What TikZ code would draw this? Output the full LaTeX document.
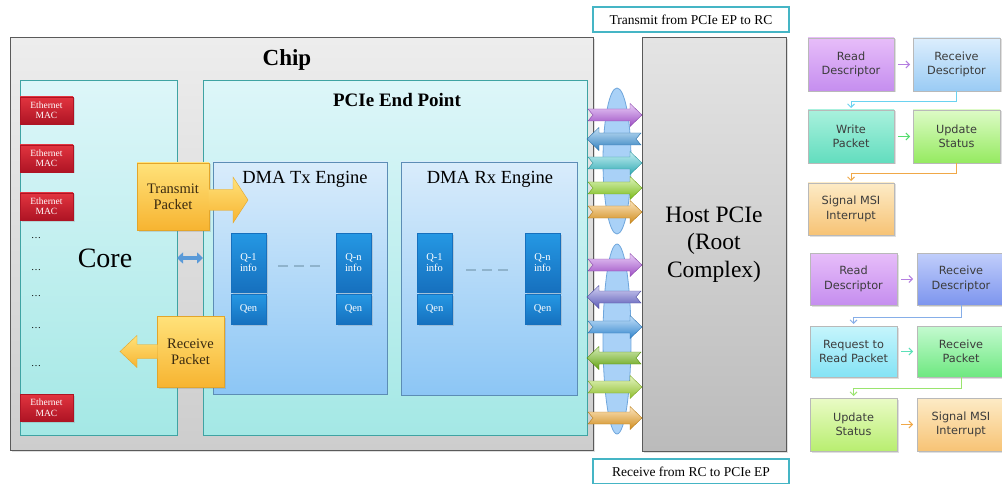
\documentclass[tikz,border=0pt]{standalone}
\usepackage{fontspec}
\setmainfont{Liberation Serif}
\newfontfamily\flowfont{DejaVu Sans}
\usetikzlibrary{shapes.geometric,arrows.meta,shadows}

% block fills and outlines
\definecolor{chipline}{HTML}{5A5A5A}
\definecolor{chiptop}{HTML}{EDEDED}
\definecolor{chipbot}{HTML}{CDCDCD}
\definecolor{tealline}{HTML}{3FA3A3}
\definecolor{tealtop}{HTML}{DDF6F9}
\definecolor{tealbot}{HTML}{A4E8E5}
\definecolor{dmaline}{HTML}{5C8DB5}
\definecolor{dmatop}{HTML}{D9ECFB}
\definecolor{dmabot}{HTML}{8CC6F5}
\definecolor{qtop}{HTML}{2598E4}
\definecolor{qbot}{HTML}{1670BE}
\definecolor{mactop}{HTML}{E2343F}
\definecolor{macbot}{HTML}{AE1424}
\definecolor{pkttop}{HTML}{FFE27A}
\definecolor{pktbot}{HTML}{F7B431}
\definecolor{pktline}{HTML}{E3A52A}
\definecolor{pkttext}{HTML}{3A2A10}
\definecolor{hosttop}{HTML}{E4E4E4}
\definecolor{hostbot}{HTML}{BBBBBB}
\definecolor{busfill}{HTML}{A9D1F7}
\definecolor{busline}{HTML}{6FA6DC}
\definecolor{labelline}{HTML}{45B5C5}
\definecolor{linkblue}{HTML}{5A9AD8}
\definecolor{qdash}{HTML}{8FB3CC}
% bus arrow colours
\definecolor{apurple}{HTML}{B85CE6}
\definecolor{ablue}{HTML}{3A97E0}
\definecolor{ateal}{HTML}{3CC9D4}
\definecolor{alime}{HTML}{8FDB1E}
\definecolor{aorange}{HTML}{F5A623}
\definecolor{aviolet}{HTML}{6A68D6}
\definecolor{asky}{HTML}{3C9CF0}
\definecolor{agreen}{HTML}{72BE12}
\definecolor{ayellow}{HTML}{A8DF35}
% flow chart colours
\definecolor{flowtext}{HTML}{3C3C3C}
\definecolor{rdtop}{HTML}{E7BDF9}\definecolor{rdbot}{HTML}{C58EEF}
\definecolor{rcatop}{HTML}{DCEEFD}\definecolor{rcabot}{HTML}{9ACBF4}
\definecolor{wptop}{HTML}{A9F1DD}\definecolor{wpbot}{HTML}{62DDBE}
\definecolor{usatop}{HTML}{DDFBC6}\definecolor{usabot}{HTML}{95EA60}
\definecolor{smtop}{HTML}{FDEBC6}\definecolor{smbot}{HTML}{F7C375}
\definecolor{rcbtop}{HTML}{C1CEFB}\definecolor{rcbbot}{HTML}{7D95EE}
\definecolor{rqtop}{HTML}{C6F5FC}\definecolor{rqbot}{HTML}{84E3F5}
\definecolor{rptop}{HTML}{C4FAD0}\definecolor{rpbot}{HTML}{6EE880}
\definecolor{usbtop}{HTML}{EAFBC6}\definecolor{usbbot}{HTML}{B8EE70}
\definecolor{cpurple}{HTML}{B47EE0}
\definecolor{ccyan}{HTML}{6AD2F0}
\definecolor{cgreen}{HTML}{55DD6E}
\definecolor{corange}{HTML}{F0A848}
\definecolor{cblue}{HTML}{86AEE8}
\definecolor{cteal}{HTML}{5CE0B8}
\definecolor{clgreen}{HTML}{9AE46E}

% notched bus arrows between the end point and the host
\newcommand\busright[2]{%
  \begin{scope}[shift={(ep.east |- 0,#1)}]
    \path[busarrow=#2] (1,-6) -- (43,-6) -- (43,-11.5) -- (55,0) -- (43,11.5)
      -- (43,6) -- (1,6) -- (6,0) -- cycle;
  \end{scope}}
\newcommand\busleft[2]{%
  \begin{scope}[shift={(host.west |- 0,#1)}, xscale=-1]
    \path[busarrow=#2] (1,-6) -- (43,-6) -- (43,-11.5) -- (55,0) -- (43,11.5)
      -- (43,6) -- (1,6) -- (6,0) -- cycle;
  \end{scope}}

\begin{document}
\begin{tikzpicture}[x=1pt, y=-1pt,
  box/.style={draw, anchor=north west, inner sep=0pt, outer sep=0pt},
  softshadow/.style={drop shadow={opacity=0.25, shadow xshift=1.5pt, shadow yshift=-1.5pt}},
  region/.style={box, draw=tealline, line width=1pt, top color=tealtop, bottom color=tealbot},
  engine/.style={box, draw=dmaline, line width=0.8pt, top color=dmatop, bottom color=dmabot},
  mac/.style={box, draw=macbot, line width=0.4pt, top color=mactop, bottom color=macbot,
    minimum width=53, minimum height=27, text=white, align=center,
    font=\fontsize{9.5}{10.5}\selectfont, softshadow},
  qinfo/.style={box, draw=qbot, line width=0.4pt, top color=qtop, bottom color=qbot,
    minimum width=35, minimum height=59, text=white, align=center,
    font=\fontsize{10.5}{11.5}\selectfont, softshadow},
  qen/.style={qinfo, minimum height=30},
  dotrow/.style={font=\fontsize{10}{11}\selectfont},
  packet/.style={box, draw=pktline, line width=0.5pt, top color=pkttop, bottom color=pktbot,
    text=pkttext, align=center, font=\fontsize{14.5}{16}\selectfont, softshadow},
  pktarrow/.style={top color=pkttop, bottom color=pktbot, draw=none},
  busarrow/.style={draw=#1!75!black, line width=0.4pt, top color=#1!30!white,
    middle color=#1, bottom color=#1!85!black},
  bus/.style={ellipse, draw=busline, line width=0.8pt, fill=busfill, inner sep=0pt, minimum width=28},
  tag/.style={box, draw=labelline, line width=1.2pt, fill=white, minimum width=196,
    minimum height=25, font=\fontsize{13.5}{15}\selectfont},
  flow/.style={box, draw=gray!55, line width=0.5pt, minimum width=86, minimum height=53,
    align=center, text=flowtext, font=\flowfont\fontsize{11.3}{14.5}\selectfont, softshadow},
  flowarrow/.style={line width=0.9pt, -{Straight Barb[length=3.5pt,width=7pt]}}
]
\useasboundingbox (0,0) rectangle (1002,484);
\fill[white] (0,0) rectangle (1002,484);

% ---------------- chip ----------------
\node[box, draw=chipline, line width=1pt, top color=chiptop, bottom color=chipbot,
  minimum width=583, minimum height=412, softshadow] (chip) at (10,38) {};
\node[font=\bfseries\fontsize{23}{26}\selectfont] (chiptitle) at (287,60) {Chip};

% core with its Ethernet MACs
\node[region, minimum width=157, minimum height=354] (core) at (20,81) {};
\node[font=\fontsize{28}{32}\selectfont] (coretitle) at (105,258) {Core};
\node[mac] (mac1) at (20,97) {Ethernet\\MAC};
\node[mac] (mac2) at (20,145) {Ethernet\\MAC};
\node[mac] (mac3) at (20,193) {Ethernet\\MAC};
\node[mac] (mac4) at (20,394) {Ethernet\\MAC};
\node[dotrow] (dots1) at (36,238) {\ldots};
\node[dotrow] (dots2) at (36,270) {\ldots};
\node[dotrow] (dots3) at (36,296) {\ldots};
\node[dotrow] (dots4) at (36,328) {\ldots};
\node[dotrow] (dots5) at (36,366) {\ldots};

% PCIe end point and its DMA engines
\node[region, minimum width=384, minimum height=354] (ep) at (203,81) {};
\node[font=\bfseries\fontsize{19}{22}\selectfont] (eptitle) at (397,100) {PCIe End Point};

\node[engine, minimum width=174, minimum height=232] (tx) at (213,162) {};
\node[font=\fontsize{18.5}{21}\selectfont] (txtitle) at (305,179) {DMA Tx Engine};
\node[engine, minimum width=176, minimum height=233] (rx) at (401,162) {};
\node[font=\fontsize{18.5}{21}\selectfont] (rxtitle) at (490,179) {DMA Rx Engine};

\node[qinfo] (txq1) at (231,233) {Q-1\\info};
\node[qen]   (txe1) at (231,294) {Qen};
\node[qinfo] (txqn) at (336,233) {Q-n\\info};
\node[qen]   (txen) at (336,294) {Qen};
\node[qinfo] (rxq1) at (417,233) {Q-1\\info};
\node[qen]   (rxe1) at (417,294) {Qen};
\node[qinfo] (rxqn) at (525,233) {Q-n\\info};
\node[qen]   (rxen) at (525,294) {Qen};
\draw[qdash, line width=2pt, dash pattern=on 10pt off 6pt]
  ([xshift=12pt, yshift=-3.5pt]txq1.east) -- ([xshift=-10pt, yshift=-3.5pt]txqn.west);
\draw[qdash, line width=2pt, dash pattern=on 10pt off 6pt]
  ([xshift=14pt, yshift=-7.5pt]rxq1.east) -- ([xshift=-12pt, yshift=-7.5pt]rxqn.west);

% core <-> end point link
\draw[linkblue, line width=3.5pt, {Triangle[length=6pt,width=11pt]}-{Triangle[length=6pt,width=11pt]}]
  (core.east |- 0,258) -- (ep.west |- 0,258);

% packet blocks with their block arrows
\node[packet, minimum width=72, minimum height=67] (tp) at (137,163) {Transmit\\Packet};
\node[packet, minimum width=67, minimum height=71] (rp) at (157,316) {Receive\\Packet};
\begin{scope}[shift={(tp.east)}, yshift=-3.5pt]
  \path[pktarrow] (-0.5,-10.5) -- (24,-10.5) -- (24,-23) -- (39,0) -- (24,23) -- (24,10.5) -- (-0.5,10.5) -- cycle;
  \draw[pktline, line width=0.4pt] (0,-10.5) -- (24,-10.5) -- (24,-23) -- (39,0) -- (24,23) -- (24,10.5) -- (0,10.5);
\end{scope}
\begin{scope}[shift={(rp.west)}]
  \path[pktarrow] (0.5,-7) -- (-20,-7) -- (-20,-16) -- (-37,0) -- (-20,16) -- (-20,7) -- (0.5,7) -- cycle;
  \draw[pktline, line width=0.4pt] (0,-7) -- (-20,-7) -- (-20,-16) -- (-37,0) -- (-20,16) -- (-20,7) -- (0,7);
\end{scope}

% ---------------- host ----------------
\node[box, draw=chipline, line width=1pt, top color=hosttop, bottom color=hostbot,
  minimum width=144, minimum height=413, align=center,
  font=\fontsize{23.5}{27.5}\selectfont, softshadow] (host) at (642,38) {Host PCIe\\(Root\\Complex)};

% PCIe lanes
\node[bus, minimum height=146] (txbus) at (617,161) {};
\node[bus, minimum height=190] (rxbus) at (617,339) {};

\busright{115}{apurple}
\busleft{139}{ablue}
\busright{163}{ateal}
\busright{188}{alime}
\busright{212}{aorange}

\busright{265}{apurple}
\busleft{297}{aviolet}
\busright{327}{asky}
\busleft{358}{agreen}
\busright{387}{ayellow}
\busright{418}{aorange}

\node[tag] (txtag) at (593,7) {Transmit from PCIe EP to RC};
\node[tag] (rxtag) at (593,459) {Receive from RC to PCIe EP};

% ---------------- transmit flow ----------------
\node[flow, top color=rdtop, bottom color=rdbot] (rda) at (808,38) {Read\\Descriptor};
\node[flow, top color=rcatop, bottom color=rcabot, minimum width=87] (rca) at (913,38) {Receive\\Descriptor};
\node[flow, top color=wptop, bottom color=wpbot] (wp) at (808,110) {Write\\Packet};
\node[flow, top color=usatop, bottom color=usabot, minimum width=87] (usa) at (913,110) {Update\\Status};
\node[flow, top color=smtop, bottom color=smbot, minimum height=52] (sma) at (808,183) {Signal MSI\\Interrupt};

\draw[flowarrow, cpurple, shorten <=4pt, shorten >=3pt] (rda) -- (rca);
\draw[flowarrow, ccyan, shorten >=2pt] (rca.south) -- ++(0,10) -| (wp.north);
\draw[flowarrow, cgreen, shorten <=4pt, shorten >=3pt] (wp) -- (usa);
\draw[flowarrow, corange, shorten >=2pt] (usa.south) -- ++(0,10) -| (sma.north);

% ---------------- receive flow ----------------
\node[flow, top color=rdtop, bottom color=rdbot, minimum width=87, minimum height=52] (rdb) at (810,253) {Read\\Descriptor};
\node[flow, top color=rcbtop, bottom color=rcbbot, minimum width=88, minimum height=52] (rcb) at (917,253) {Receive\\Descriptor};
\node[flow, top color=rqtop, bottom color=rqbot, minimum width=87, minimum height=51] (rq) at (810,326) {Request to\\Read Packet};
\node[flow, top color=rptop, bottom color=rpbot, minimum width=88, minimum height=51] (rpk) at (917,326) {Receive\\Packet};
\node[flow, top color=usbtop, bottom color=usbbot, minimum width=87] (usb) at (810,398) {Update\\Status};
\node[flow, top color=smtop, bottom color=smbot, minimum width=88] (smb) at (917,398) {Signal MSI\\Interrupt};

\draw[flowarrow, cpurple, shorten <=4pt, shorten >=4pt] (rdb) -- (rcb);
\draw[flowarrow, cblue, shorten >=2pt] (rcb.south) -- ++(0,12) -| (rq.north);
\draw[flowarrow, cteal, shorten <=4pt, shorten >=4pt] (rq) -- (rpk);
\draw[flowarrow, clgreen, shorten >=2pt] (rpk.south) -- ++(0,11) -| (usb.north);
\draw[flowarrow, corange, shorten <=4pt, shorten >=4pt] (usb) -- (smb);
\end{tikzpicture}
\end{document}
